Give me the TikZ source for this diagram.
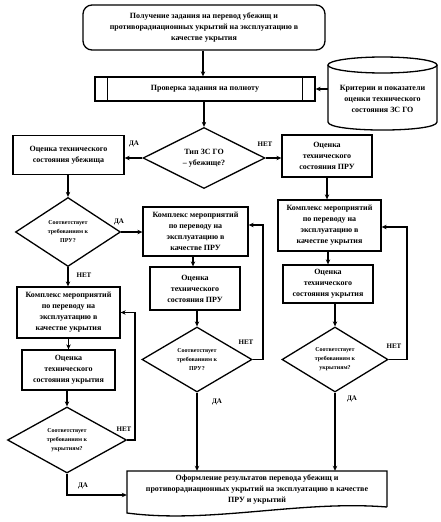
\documentclass[tikz,border=0pt]{standalone}
\usepackage{fontspec}
\setmainfont{Liberation Serif}
\usetikzlibrary{shapes.geometric,arrows.meta,calc}
\begin{document}
\begin{tikzpicture}[x=1pt,y=-1pt,
  every node/.style={font=\bfseries\fontsize{8}{11}\selectfont, align=center, inner sep=1pt},
  box/.style={draw, line width=1.3pt},
  dec/.style={draw, diamond, line width=1.3pt, inner sep=0pt},
  small/.style={font=\bfseries\fontsize{6}{9}\selectfont},
  lbl/.style={font=\bfseries\fontsize{7}{8}\selectfont, inner sep=0pt},
  ln/.style={line width=1.1pt},
  arr/.style={line width=1.1pt, -{Stealth[length=5pt,width=4.5pt]}}]
\useasboundingbox (0,0) rectangle (441,522);

% top and check
\node[box, rounded corners=9pt, minimum width=242pt, minimum height=45pt] (top) at (204,27.5)
  {Получение задания на перевод убежищ и\\противорадиационных укрытий на эксплуатацию в\\качестве укрытия};
\node[box, minimum width=220pt, minimum height=24pt] (check) at (205,89) {Проверка задания на полноту};
\draw[line width=1.3pt] ([xshift=13pt]check.north west) -- ([xshift=13pt]check.south west);
\draw[line width=1.3pt] ([xshift=-13pt]check.north east) -- ([xshift=-13pt]check.south east);

% database cylinder
\node[minimum width=109pt, minimum height=60pt] (db) at (382.5,99)
  {Критерии и показатели\\оценки технического\\состояния ЗС ГО};
\draw[line width=1.3pt] (382.5,65) ellipse [x radius=54.5, y radius=8];
\draw[line width=1.3pt] (328,65) -- (328,122) .. controls (328,132.7) and (437,132.7) .. (437,122) -- (437,65);

% decision type
\node[dec, minimum width=122pt, minimum height=61pt] (typ) at (204,158) {Тип ЗС ГО\\– убежище?};

\node[box, minimum width=111pt, minimum height=39pt] (ub) at (68.5,155) {Оценка технического\\состояния убежища};
\node[box, minimum width=90pt, minimum height=42pt] (pru1) at (327,156) {Оценка\\технического\\состояния ПРУ};

% left column
\node[dec, small, minimum width=105pt, minimum height=69pt] (d1) at (68,232) {Соответствует\\требованиям к\\ПРУ?};
\node[box, minimum width=103pt, minimum height=51pt] (kuk1) at (68.5,312.5) {Комплекс мероприятий\\по переводу на\\эксплуатацию в\\качестве укрытия};
\node[box, minimum width=93pt, minimum height=40pt] (ouk1) at (68.5,370) {Оценка\\технического\\состояния укрытия};
\node[dec, small, minimum width=119pt, minimum height=66pt] (d2) at (67,440) {Соответствует\\требованиям к\\укрытиям?};

% middle column
\node[box, minimum width=105pt, minimum height=49pt] (kpru) at (195.5,231.5) {Комплекс мероприятий\\по переводу на\\эксплуатацию в\\качестве ПРУ};
\node[box, minimum width=90pt, minimum height=43pt] (opru) at (195,288.5) {Оценка\\технического\\состояния ПРУ};
\node[dec, small, minimum width=110pt, minimum height=65pt] (d3) at (197,359.5) {Соответствует\\требованиям к\\ПРУ?};

% right column
\node[box, minimum width=103pt, minimum height=51pt] (kuk2) at (329.5,225.5) {Комплекс мероприятий\\по переводу на\\эксплуатацию в\\качестве укрытия};
\node[box, minimum width=90pt, minimum height=38pt] (ouk2) at (328,284) {Оценка\\технического\\состояния укрытия};
\node[dec, small, minimum width=106pt, minimum height=65pt] (d4) at (335,359.5) {Соответствует\\требованиям к\\укрытиям?};

% final document shape
\node[minimum width=260pt, minimum height=36pt] (fin) at (257,489)
  {Оформление результатов перевода убежищ и\\противорадиационных укрытий на эксплуатацию в качестве\\ПРУ и укрытий};
\draw[line width=1.3pt] (387,507) -- (387,471) -- (127,471) -- (127,513)
  .. controls (210,524) and (300,500) .. (387,507);

% connectors
\draw[arr] (top.south -| 203,0) -- (check.north -| 203,0);
\draw[arr] (check.south -| typ.north) -- (typ.north);
\draw[arr] (db.west |- check.east) -- (check.east);
\draw[arr] (typ.west) -- (typ.west -| ub.east);
\draw[arr] (typ.east) -- (typ.east -| pru1.west);
\draw[arr] (ub.south -| d1.north) -- (d1.north);
\draw[arr] (d1.east) -- (d1.east -| kpru.west);
\draw[arr] (d1.south) -- (d1.south |- kuk1.north);
\draw[arr] (kuk1.south) -- (ouk1.north);
\draw[arr] (ouk1.south -| d2.north) -- (d2.north);
\coordinate (l1) at (135,440);
\draw[arr] (d2.east) -- (l1) -- (l1 |- kuk1.east) -- (kuk1.east);
\coordinate (l2) at (67,495);
\draw[arr] (d2.south) -- (l2) -- (l2 -| fin.west);

\draw[arr] (kpru.south -| 193,0) -- (opru.north -| 193,0);
\draw[arr] (opru.south -| d3.north) -- (d3.north);
\coordinate (m1) at (263,359.5);
\coordinate (m2) at (263,225);
\draw[arr] (d3.east) -- (m1) -- (m2) -- (m2 -| kpru.east);
\draw[arr] (d3.south) -- (d3.south |- fin.north);

\draw[arr] (pru1.south) -- (pru1.south |- kuk2.north);
\draw[arr] (kuk2.south -| 328,0) -- (ouk2.north -| 328,0);
\draw[arr] (ouk2.south -| d4.north) -- (d4.north);
\coordinate (r1) at (407,359.5);
\coordinate (r2) at (407,227);
\draw[arr] (d4.east) -- (r1) -- (r2) -- (r2 -| kuk2.east);
\draw[arr] (d4.south) -- (d4.south |- fin.north);

% labels
\node[lbl] (la1) at (134,144) {ДА};
\node[lbl] (ln1) at (265,144) {НЕТ};
\node[lbl] (la2) at (119,222) {ДА};
\node[lbl] (ln2) at (84,275) {НЕТ};
\node[lbl] (ln3) at (124,429) {НЕТ};
\node[lbl] (la3) at (83,486) {ДА};
\node[lbl] (ln4) at (246,342) {НЕТ};
\node[lbl] (la4) at (217,402) {ДА};
\node[lbl] (ln5) at (394,346) {НЕТ};
\node[lbl] (la5) at (352,399) {ДА};
\end{tikzpicture}
\end{document}
